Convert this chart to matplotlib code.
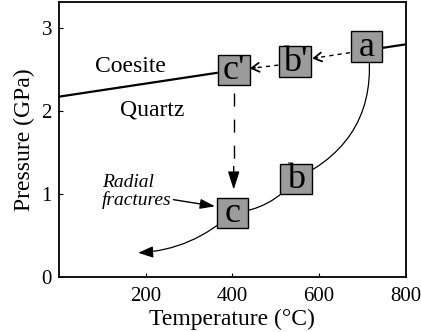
import matplotlib
matplotlib.use("Agg")
import matplotlib.pyplot as plt
from matplotlib.patches import Rectangle, FancyArrowPatch

plt.rcParams['font.family'] = ['Liberation Serif', 'DejaVu Serif']

# Coesite/Quartz phase boundary (T in C, P in GPa)
boundary_T = [0, 800]
boundary_P = [2.17, 2.80]

# Decompression path waypoints (a -> b -> c -> end)
path_T = [713, 546, 400, 183]
path_P = [2.77, 1.18, 0.77, 0.29]
path_bend = [-0.36, -0.22, -0.18]

# Stage boxes
box_labels = ['a', "b'", "c'", 'b', 'c']
box_T = [709, 545, 403, 546, 400]
box_P = [2.77, 2.59, 2.49, 1.18, 0.77]

x_ticks = [200, 400, 600, 800]
y_ticks = [0, 1, 2, 3]

fig = plt.figure(figsize=(4.21, 3.32), dpi=100)
ax = fig.add_axes([0.140, 0.166, 0.824, 0.828])
ax.set_xlim(0, 800)
ax.set_ylim(0, 3.31)

bw = 73.0
bh = 0.37


def boundary_at(t):
    return boundary_P[0] + (boundary_P[1] - boundary_P[0]) * (t - boundary_T[0]) / (boundary_T[1] - boundary_T[0])


# boundary visible only outside the c' ... a box run
t_left = box_T[2] - bw / 2
t_right = box_T[0] + bw / 2
ax.plot([boundary_T[0], t_left], [boundary_P[0], boundary_at(t_left)], color='black', lw=1.6,
        zorder=2, solid_capstyle='butt')
ax.plot([t_right, boundary_T[1]], [boundary_at(t_right), boundary_P[1]], color='black', lw=1.6,
        zorder=2, solid_capstyle='butt')

for i in range(len(path_T) - 1):
    last = i == len(path_T) - 2
    style = '-|>,head_length=9,head_width=3.5' if last else '-'
    arr = FancyArrowPatch((path_T[i], path_P[i]), (path_T[i + 1], path_P[i + 1]),
                          connectionstyle=f'arc3,rad={path_bend[i]}',
                          arrowstyle=style, color='black', lw=0.9,
                          shrinkA=0, shrinkB=0, zorder=2)
    ax.add_patch(arr)

# dashed arrows a -> b' -> c'
for (x0, y0, x1, y1) in [(671, 2.70, 584, 2.63), (506, 2.55, 440, 2.51)]:
    ax.plot([x0, x1 + 8], [y0, y1 + (y0 - y1) * 8 / (x0 - x1)], color='black', lw=1.0,
            linestyle=(0, (3, 3)), zorder=2)
    ax.annotate('', xy=(x1, y1), xytext=(x1 + 12, y1 + (y0 - y1) * 12 / (x0 - x1)),
                arrowprops=dict(arrowstyle='->,head_length=0.55,head_width=0.32', color='black',
                                lw=1.3, shrinkA=0, shrinkB=0), zorder=3)

# vertical dashed c' -> c
ax.plot([403, 403], [2.22, 1.26], color='black', lw=1.0, linestyle=(0, (9.4, 9.4)))
ax.annotate('', xy=(403, 1.05), xytext=(403, 1.33),
            arrowprops=dict(arrowstyle='-|>,head_length=1.1,head_width=0.35', color='black',
                            lw=1.0, shrinkA=0, shrinkB=0))

# Radial fractures label arrow
ax.annotate('', xy=(360, 0.85), xytext=(264, 0.93),
            arrowprops=dict(arrowstyle='-|>,head_length=0.9,head_width=0.3', color='black',
                            lw=1.0, shrinkA=0, shrinkB=0))
ax.text(99, 1.03, 'Radial\nfractures', ha='left', va='center', fontsize=14,
        style='italic', linespacing=1.05)

ax.text(164, 2.53, 'Coesite', ha='center', va='center', fontsize=17)
ax.text(214, 2.01, 'Quartz', ha='center', va='center', fontsize=17)

for lab, t, p in zip(box_labels, box_T, box_P):
    ax.add_patch(Rectangle((t - bw / 2, p - bh / 2), bw, bh, facecolor='#9b9b9b',
                           edgecolor='black', lw=1.0, zorder=4))
    ax.text(t, p - 0.01, lab, ha='center', va='center', fontsize=26, zorder=5)

ax.set_xticks(x_ticks)
ax.set_yticks(y_ticks)
ax.tick_params(direction='in', length=3, width=0.8, labelsize=15)
ax.tick_params(axis='x', pad=7)
ax.tick_params(axis='y', pad=5)
for s in ax.spines.values():
    s.set_linewidth(1.3)

ax.set_xlabel('Temperature (°C)', fontsize=17, labelpad=2)
ax.set_ylabel('Pressure (GPa)', fontsize=17, labelpad=5)

fig.savefig('out.png', dpi=100)
